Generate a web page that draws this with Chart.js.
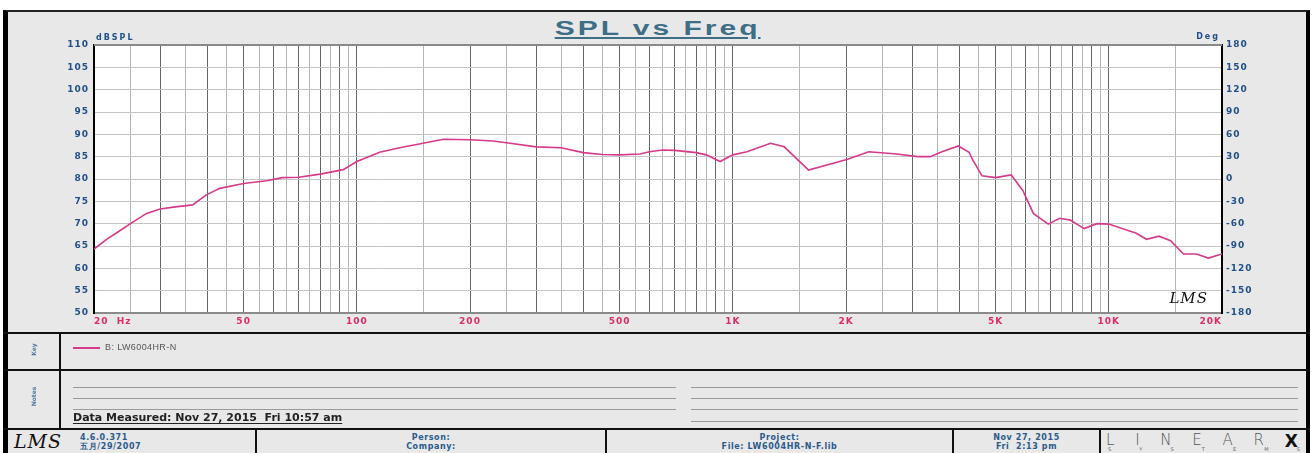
<!DOCTYPE html>
<html>
<head>
<meta charset="utf-8">
<script src="https://cdn.jsdelivr.net/npm/chart.js@4.4.0/dist/chart.umd.min.js"></script>
<style>
  body { margin: 0; width: 1312px; height: 453px; background: #fff; position: relative; overflow: hidden; font-family: "Liberation Sans", Arial, sans-serif; }
  .abs { position: absolute; }
  #panel { left: 3px; top: 10px; width: 1307px; height: 443px; background: #e8e8e8; border-top: 2px solid #222; border-left: 5px solid #000; border-right: 4px solid #000; box-sizing: border-box; }
  #chart { left: 0; top: 0; }
  #title { left: 0; width: 1316px; top: 17px; text-align: center; color: #3d6e85; font: bold 20px "Liberation Sans", Arial, sans-serif; letter-spacing: 2px; }
  #title span { display: inline-block; transform: scaleX(1.5); text-decoration: underline; text-underline-offset: 2px; }
  .hline { background: #111; height: 2px; left: 3px; width: 1307px; }
  .vline { background: #111; width: 2px; }
  .note { background: #9a9a9a; height: 1px; }
  .side { color: #5577a0; font: bold 6px "DejaVu Sans", sans-serif; transform: rotate(-90deg); transform-origin: center; width: 30px; text-align: center; }
  .foot { color: #2c5b8c; font: bold 8px "DejaVu Sans", sans-serif; letter-spacing: 0.6px; line-height: 9px; text-align: center; }
</style>
</head>
<body>
<div id="panel" class="abs"></div>
<div id="title" class="abs"><span>SPL vs Freq</span></div>
<canvas id="chart" class="abs" width="1312" height="333"></canvas>

<!-- key / notes / footer strips -->
<div class="abs hline" style="top:332px"></div>
<div class="abs hline" style="top:369px"></div>
<div class="abs hline" style="top:428px"></div>
<div class="abs vline" style="left:59px;top:333px;height:96px"></div>

<div class="abs side" style="left:18px;top:346px">Key</div>
<div class="abs side" style="left:18px;top:393px">Notes</div>

<div class="abs" style="left:73px;top:347px;width:27px;height:1.5px;background:#d63a8a"></div>
<div class="abs" style="left:105px;top:342px;color:#555;font:9px 'Liberation Sans',Arial,sans-serif;letter-spacing:0.4px">B: LW6004HR-N</div>

<div class="abs note" style="left:73px;top:387px;width:603px"></div>
<div class="abs note" style="left:73px;top:398px;width:603px"></div>
<div class="abs note" style="left:73px;top:409px;width:603px"></div>
<div class="abs note" style="left:691px;top:387px;width:607px"></div>
<div class="abs note" style="left:691px;top:398px;width:607px"></div>
<div class="abs note" style="left:691px;top:409px;width:607px"></div>
<div class="abs note" style="left:691px;top:421px;width:607px"></div>
<div class="abs" style="left:73px;top:411px;color:#222;font:bold 11px 'DejaVu Sans',sans-serif;letter-spacing:0;text-decoration:underline;text-underline-offset:2px">Data Measured: Nov 27, 2015&nbsp; Fri 10:57 am</div>

<div class="abs vline" style="left:255px;top:429px;height:24px"></div>
<div class="abs vline" style="left:605px;top:429px;height:24px"></div>
<div class="abs vline" style="left:952px;top:429px;height:24px"></div>
<div class="abs vline" style="left:1099px;top:429px;height:24px"></div>

<div class="abs" style="left:14px;top:430px;font:italic 19px 'DejaVu Serif',serif;color:#111;letter-spacing:1px">LMS</div>
<div class="abs foot" style="left:80px;top:433px;text-align:left">4.6.0.371<br>五月/29/2007</div>
<div class="abs foot" style="left:257px;width:348px;top:433px">Person:<br>Company:</div>
<div class="abs foot" style="left:607px;width:345px;top:433px">Project:<br>File: LW6004HR-N-F.lib</div>
<div class="abs foot" style="left:954px;width:145px;top:433px">Nov 27, 2015<br>Fri&nbsp; 2:13 pm</div>
<div class="abs" style="left:1106px;top:431px;width:192px;display:flex;justify-content:space-between;font:15px 'DejaVu Sans',sans-serif;color:#555;font-weight:200">
  <span>L</span><span>I</span><span>N</span><span>E</span><span>A</span><span>R</span><span style="color:#111;font-weight:900;font-size:17px">X</span>
</div>
<div class="abs" style="left:1108px;top:446px;width:192px;display:flex;justify-content:space-between;font:5px 'DejaVu Sans',sans-serif;color:#666">
  <span>S</span><span>Y</span><span>S</span><span>T</span><span>E</span><span>M</span><span>S</span>
</div>

<script>
const freqs = [20, 21.6, 23.2, 25, 27.6, 30, 32.5, 36.6, 39.7, 43.2, 50, 57.6, 63.4, 70, 80, 92, 100,
  115, 130, 150, 170, 200, 230, 250, 300, 350, 400, 450, 500, 566, 600, 650, 700, 800, 850, 925,
  1000, 1090, 1260, 1370, 1590, 2000, 2300, 2730, 3100, 3350, 3600, 3980, 4250, 4350, 4600, 5000,
  5500, 5900, 6300, 6900, 7400, 7900, 8600, 9300, 10000, 11300, 11800, 12600, 13600, 14600, 15800,
  17100, 18400, 20000];
const spl = [64.3, 66.5, 68.2, 70.0, 72.3, 73.3, 73.7, 74.2, 76.4, 77.9, 79.0, 79.6, 80.3, 80.4, 81.1, 82.1, 83.9,
  86.0, 87.0, 88.0, 88.9, 88.8, 88.5, 88.1, 87.2, 87.0, 85.9, 85.5, 85.4, 85.6, 86.1, 86.5, 86.4, 85.9, 85.4, 83.9,
  85.4, 86.1, 88.0, 87.2, 82.0, 84.3, 86.1, 85.6, 85.0, 85.0, 86.1, 87.4, 86.0, 84.2, 80.7, 80.3,
  80.9, 77.5, 72.3, 69.9, 71.2, 70.8, 68.9, 70.0, 69.9, 68.4, 67.9, 66.5, 67.2, 66.2, 63.2,
  63.2, 62.3, 63.2];

const gridFreqs = [20, 25, 30, 35, 40, 45, 50, 55, 60, 65, 70, 75, 80, 85, 90, 95, 100, 150,
  200, 250, 300, 350, 400, 450, 500, 550, 600, 650, 700, 750, 800, 850, 900, 950, 1000, 1500,
  2000, 2500, 3000, 3500, 4000, 4500, 5000, 5500, 6000, 6500, 7000, 7500, 8000, 8500, 9000, 9500, 10000, 15000, 20000];
const freqTickValues = [20, 50, 100, 200, 500, 1000, 2000, 5000, 10000, 20000];
const freqTickLabels = ['20  Hz', '50', '100', '200', '500', '1K', '2K', '5K', '10K', '20K'];
const splMin = 50, splMax = 110;
const degMin = -180, degMax = 180;

const blue = '#22508a';
const tickFont = { family: '"DejaVu Sans", sans-serif', size: 9, weight: 'bold' };

const frame = {
  id: 'frame',
  beforeDraw(chart) {
    const { ctx, chartArea: a } = chart;
    ctx.save();
    ctx.fillStyle = '#fff';
    ctx.fillRect(a.left, a.top, a.right - a.left, a.bottom - a.top);
    ctx.restore();
    ctx.letterSpacing = '1px';
  },
  afterDraw(chart) {
    const { ctx, chartArea: a } = chart;
    ctx.save();
    ctx.strokeStyle = '#8a8a8a';
    ctx.lineWidth = 2;
    ctx.beginPath();
    ctx.moveTo(a.left, a.top);
    ctx.lineTo(a.right, a.top);
    ctx.stroke();
    ctx.fillStyle = blue;
    ctx.font = 'bold 8px "DejaVu Sans", sans-serif';
    ctx.letterSpacing = '2px';
    ctx.textBaseline = 'bottom';
    ctx.textAlign = 'left';
    ctx.fillText('dBSPL', a.left + 2, a.top - 3);
    ctx.textAlign = 'right';
    ctx.fillText('Deg', a.right - 2, a.top - 4);
    ctx.letterSpacing = '1px';
    ctx.fillStyle = '#111';
    ctx.font = 'italic 15px "DejaVu Serif", serif';
    ctx.textAlign = 'right';
    ctx.fillText('LMS', a.right - 14, a.bottom - 6);
    ctx.restore();
  }
};

new Chart(document.getElementById('chart'), {
  type: 'scatter',
  data: {
    datasets: [{
      label: 'B: LW6004HR-N',
      data: freqs.map((f, i) => ({ x: f, y: spl[i] })),
      showLine: true,
      borderColor: '#d63a8a',
      borderWidth: 1.6,
      pointRadius: 0,
      tension: 0,
      yAxisID: 'y'
    }]
  },
  options: {
    responsive: false,
    animation: false,
    events: [],
    layout: { padding: { top: 45, left: 0, right: 0, bottom: 0 } },
    plugins: { legend: { display: false }, tooltip: { enabled: false } },
    scales: {
      x: {
        type: 'logarithmic',
        min: 20,
        max: 20000,
        afterBuildTicks: s => { s.ticks = gridFreqs.map(v => ({ value: v })); },
        afterFit: s => { s.height = 20; },
        ticks: {
          autoSkip: false,
          maxRotation: 0,
          align: 'inner',
          padding: 3,
          color: '#d92d6b',
          font: tickFont,
          callback: v => {
            const i = freqTickValues.indexOf(v);
            return i >= 0 ? freqTickLabels[i] : '';
          }
        },
        grid: {
          drawTicks: false,
          lineWidth: 1,
          color: c => {
            const v = c.tick ? c.tick.value : 0;
            const m = v / Math.pow(10, Math.floor(Math.log10(v) + 1e-9));
            return Math.abs(m - Math.round(m)) < 1e-6 ? '#666' : '#b4b4b4';
          }
        },
        border: { color: '#8a8a8a', width: 2 }
      },
      y: {
        position: 'left',
        min: splMin,
        max: splMax,
        afterFit: s => { s.width = 94; },
        ticks: {
          stepSize: 2.5,
          padding: 5,
          color: blue,
          font: tickFont,
          callback: v => (v % 5 === 0 ? String(v) : '')
        },
        grid: {
          drawTicks: false,
          color: c => (c.tick && c.tick.value % 5 === 0 ? '#c4c4c4' : '#d6d6d6')
        },
        border: { color: '#000', width: 2 }
      },
      y2: {
        position: 'right',
        min: degMin,
        max: degMax,
        afterFit: s => { s.width = 90; },
        ticks: { stepSize: 30, padding: 4, color: blue, font: tickFont },
        grid: { drawOnChartArea: false, drawTicks: false },
        border: { color: '#000', width: 2 }
      }
    }
  },
  plugins: [frame]
});
</script>
</body>
</html>
